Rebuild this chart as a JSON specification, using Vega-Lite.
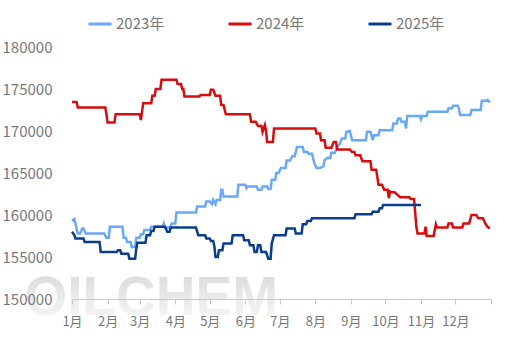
{
 "$schema": "https://vega.github.io/schema/vega-lite/v6.json",
 "width": 419,
 "height": 252,
 "autosize": {"type": "none"},
 "padding": {"left": 72, "top": 47, "right": 23, "bottom": 43},
 "config": {"view": {"stroke": null}, "font": "Noto Sans CJK SC"},
 "datasets": {
  "wm": [{"t": "OILCHEM"}],
  "series": [
   {"s":"2023年","d":"2023/01/01","v":159300},{"s":"2023年","d":"2023/01/03","v":159500},{"s":"2023年","d":"2023/01/04","v":159000},{"s":"2023年","d":"2023/01/06","v":157800},{"s":"2023年","d":"2023/01/08","v":157800},{"s":"2023年","d":"2023/01/10","v":158400},{"s":"2023年","d":"2023/01/11","v":158400},{"s":"2023年","d":"2023/01/13","v":157800},{"s":"2023年","d":"2023/01/29","v":157800},{"s":"2023年","d":"2023/01/31","v":157300},{"s":"2023年","d":"2023/02/02","v":157300},{"s":"2023年","d":"2023/02/03","v":158600},{"s":"2023年","d":"2023/02/14","v":158600},{"s":"2023年","d":"2023/02/15","v":157300},{"s":"2023年","d":"2023/02/17","v":157300},{"s":"2023年","d":"2023/02/18","v":156800},{"s":"2023年","d":"2023/02/21","v":156800},{"s":"2023年","d":"2023/02/22","v":156200},{"s":"2023年","d":"2023/02/25","v":156200},{"s":"2023年","d":"2023/02/26","v":157300},{"s":"2023年","d":"2023/03/01","v":157300},{"s":"2023年","d":"2023/03/02","v":157700},{"s":"2023年","d":"2023/03/04","v":157700},{"s":"2023年","d":"2023/03/05","v":158200},{"s":"2023年","d":"2023/03/10","v":158200},{"s":"2023年","d":"2023/03/11","v":158600},{"s":"2023年","d":"2023/03/21","v":158600},{"s":"2023年","d":"2023/03/22","v":159000},{"s":"2023年","d":"2023/03/23","v":158500},{"s":"2023年","d":"2023/03/27","v":158500},{"s":"2023年","d":"2023/03/29","v":159000},{"s":"2023年","d":"2023/04/01","v":159000},{"s":"2023年","d":"2023/04/02","v":160300},{"s":"2023年","d":"2023/04/19","v":160300},{"s":"2023年","d":"2023/04/20","v":161000},{"s":"2023年","d":"2023/04/27","v":161000},{"s":"2023年","d":"2023/04/28","v":161600},{"s":"2023年","d":"2023/05/01","v":161600},{"s":"2023年","d":"2023/05/03","v":161300},{"s":"2023年","d":"2023/05/04","v":161800},{"s":"2023年","d":"2023/05/06","v":161300},{"s":"2023年","d":"2023/05/07","v":161800},{"s":"2023年","d":"2023/05/10","v":161800},{"s":"2023年","d":"2023/05/11","v":163000},{"s":"2023年","d":"2023/05/12","v":163000},{"s":"2023年","d":"2023/05/13","v":162200},{"s":"2023年","d":"2023/05/25","v":162200},{"s":"2023年","d":"2023/05/26","v":163600},{"s":"2023年","d":"2023/06/01","v":163600},{"s":"2023年","d":"2023/06/02","v":163200},{"s":"2023年","d":"2023/06/03","v":163400},{"s":"2023年","d":"2023/06/11","v":163400},{"s":"2023年","d":"2023/06/12","v":163000},{"s":"2023年","d":"2023/06/15","v":163000},{"s":"2023年","d":"2023/06/16","v":163400},{"s":"2023年","d":"2023/06/20","v":163400},{"s":"2023年","d":"2023/06/21","v":163100},{"s":"2023年","d":"2023/06/23","v":163100},{"s":"2023年","d":"2023/06/24","v":164200},{"s":"2023年","d":"2023/06/27","v":164200},{"s":"2023年","d":"2023/06/28","v":165000},{"s":"2023年","d":"2023/06/30","v":165000},{"s":"2023年","d":"2023/07/02","v":165600},{"s":"2023年","d":"2023/07/06","v":165600},{"s":"2023年","d":"2023/07/07","v":166500},{"s":"2023年","d":"2023/07/10","v":166500},{"s":"2023年","d":"2023/07/12","v":167000},{"s":"2023年","d":"2023/07/14","v":167000},{"s":"2023年","d":"2023/07/16","v":168100},{"s":"2023年","d":"2023/07/21","v":168100},{"s":"2023年","d":"2023/07/22","v":167500},{"s":"2023年","d":"2023/07/25","v":167500},{"s":"2023年","d":"2023/07/26","v":167300},{"s":"2023年","d":"2023/07/29","v":167300},{"s":"2023年","d":"2023/07/31","v":166200},{"s":"2023年","d":"2023/08/02","v":165600},{"s":"2023年","d":"2023/08/05","v":165600},{"s":"2023年","d":"2023/08/08","v":165800},{"s":"2023年","d":"2023/08/09","v":166500},{"s":"2023年","d":"2023/08/11","v":166800},{"s":"2023年","d":"2023/08/14","v":166800},{"s":"2023年","d":"2023/08/15","v":167400},{"s":"2023年","d":"2023/08/18","v":167400},{"s":"2023年","d":"2023/08/20","v":168100},{"s":"2023年","d":"2023/08/22","v":168400},{"s":"2023年","d":"2023/08/24","v":169100},{"s":"2023年","d":"2023/08/27","v":169100},{"s":"2023年","d":"2023/08/28","v":169900},{"s":"2023年","d":"2023/08/31","v":170000},{"s":"2023年","d":"2023/09/02","v":168900},{"s":"2023年","d":"2023/09/14","v":168900},{"s":"2023年","d":"2023/09/15","v":169900},{"s":"2023年","d":"2023/09/18","v":169900},{"s":"2023年","d":"2023/09/20","v":168900},{"s":"2023年","d":"2023/09/21","v":169500},{"s":"2023年","d":"2023/09/25","v":169500},{"s":"2023年","d":"2023/09/26","v":170100},{"s":"2023年","d":"2023/10/07","v":170100},{"s":"2023年","d":"2023/10/08","v":170900},{"s":"2023年","d":"2023/10/11","v":170900},{"s":"2023年","d":"2023/10/12","v":171500},{"s":"2023年","d":"2023/10/14","v":171500},{"s":"2023年","d":"2023/10/15","v":171100},{"s":"2023年","d":"2023/10/18","v":171100},{"s":"2023年","d":"2023/10/19","v":170300},{"s":"2023年","d":"2023/10/20","v":171800},{"s":"2023年","d":"2023/10/31","v":171800},{"s":"2023年","d":"2023/11/01","v":171400},{"s":"2023年","d":"2023/11/02","v":171800},{"s":"2023年","d":"2023/11/06","v":171800},{"s":"2023年","d":"2023/11/07","v":172300},{"s":"2023年","d":"2023/11/24","v":172300},{"s":"2023年","d":"2023/11/25","v":172700},{"s":"2023年","d":"2023/11/28","v":172700},{"s":"2023年","d":"2023/11/29","v":173000},{"s":"2023年","d":"2023/12/03","v":173000},{"s":"2023年","d":"2023/12/04","v":172700},{"s":"2023年","d":"2023/12/05","v":171900},{"s":"2023年","d":"2023/12/14","v":171900},{"s":"2023年","d":"2023/12/15","v":172500},{"s":"2023年","d":"2023/12/23","v":172500},{"s":"2023年","d":"2023/12/24","v":173600},{"s":"2023年","d":"2023/12/28","v":173600},{"s":"2023年","d":"2023/12/29","v":173700},{"s":"2023年","d":"2023/12/31","v":173400},
   {"s":"2024年","d":"2023/01/01","v":173450},{"s":"2024年","d":"2023/01/05","v":173450},{"s":"2024年","d":"2023/01/06","v":172800},{"s":"2024年","d":"2023/01/30","v":172800},{"s":"2024年","d":"2023/01/31","v":172000},{"s":"2024年","d":"2023/02/01","v":171000},{"s":"2024年","d":"2023/02/07","v":171000},{"s":"2024年","d":"2023/02/08","v":172000},{"s":"2024年","d":"2023/03/01","v":172000},{"s":"2024年","d":"2023/03/02","v":171300},{"s":"2024年","d":"2023/03/04","v":173300},{"s":"2024年","d":"2023/03/11","v":173300},{"s":"2024年","d":"2023/03/12","v":174200},{"s":"2024年","d":"2023/03/14","v":174200},{"s":"2024年","d":"2023/03/15","v":175000},{"s":"2024年","d":"2023/03/19","v":175000},{"s":"2024年","d":"2023/03/20","v":176100},{"s":"2024年","d":"2023/04/02","v":176100},{"s":"2024年","d":"2023/04/03","v":175600},{"s":"2024年","d":"2023/04/06","v":175600},{"s":"2024年","d":"2023/04/07","v":175000},{"s":"2024年","d":"2023/04/08","v":175000},{"s":"2024年","d":"2023/04/09","v":174100},{"s":"2024年","d":"2023/04/22","v":174100},{"s":"2024年","d":"2023/04/23","v":174300},{"s":"2024年","d":"2023/05/01","v":174300},{"s":"2024年","d":"2023/05/02","v":174900},{"s":"2024年","d":"2023/05/04","v":174900},{"s":"2024年","d":"2023/05/06","v":174200},{"s":"2024年","d":"2023/05/10","v":174200},{"s":"2024年","d":"2023/05/11","v":173100},{"s":"2024年","d":"2023/05/13","v":173100},{"s":"2024年","d":"2023/05/15","v":172000},{"s":"2024年","d":"2023/06/05","v":172000},{"s":"2024年","d":"2023/06/06","v":171100},{"s":"2024年","d":"2023/06/10","v":171100},{"s":"2024年","d":"2023/06/12","v":170600},{"s":"2024年","d":"2023/06/15","v":170600},{"s":"2024年","d":"2023/06/16","v":169900},{"s":"2024年","d":"2023/06/18","v":170700},{"s":"2024年","d":"2023/06/19","v":170000},{"s":"2024年","d":"2023/06/20","v":168700},{"s":"2024年","d":"2023/06/25","v":168700},{"s":"2024年","d":"2023/06/26","v":170300},{"s":"2024年","d":"2023/08/01","v":170300},{"s":"2024年","d":"2023/08/02","v":169700},{"s":"2024年","d":"2023/08/05","v":169700},{"s":"2024年","d":"2023/08/06","v":168900},{"s":"2024年","d":"2023/08/09","v":168900},{"s":"2024年","d":"2023/08/10","v":168000},{"s":"2024年","d":"2023/08/15","v":168000},{"s":"2024年","d":"2023/08/17","v":168700},{"s":"2024年","d":"2023/08/19","v":168700},{"s":"2024年","d":"2023/08/20","v":167800},{"s":"2024年","d":"2023/08/31","v":167800},{"s":"2024年","d":"2023/09/02","v":167500},{"s":"2024年","d":"2023/09/04","v":167500},{"s":"2024年","d":"2023/09/05","v":167100},{"s":"2024年","d":"2023/09/09","v":167100},{"s":"2024年","d":"2023/09/11","v":166400},{"s":"2024年","d":"2023/09/18","v":166400},{"s":"2024年","d":"2023/09/19","v":165400},{"s":"2024年","d":"2023/09/23","v":165400},{"s":"2024年","d":"2023/09/25","v":163600},{"s":"2024年","d":"2023/09/28","v":163600},{"s":"2024年","d":"2023/09/30","v":163000},{"s":"2024年","d":"2023/10/03","v":163000},{"s":"2024年","d":"2023/10/04","v":162000},{"s":"2024年","d":"2023/10/05","v":162800},{"s":"2024年","d":"2023/10/07","v":162700},{"s":"2024年","d":"2023/10/09","v":162700},{"s":"2024年","d":"2023/10/14","v":162100},{"s":"2024年","d":"2023/10/22","v":162100},{"s":"2024年","d":"2023/10/23","v":161900},{"s":"2024年","d":"2023/10/26","v":161900},{"s":"2024年","d":"2023/10/27","v":160200},{"s":"2024年","d":"2023/10/28","v":158600},{"s":"2024年","d":"2023/10/29","v":157800},{"s":"2024年","d":"2023/11/04","v":157800},{"s":"2024年","d":"2023/11/05","v":158600},{"s":"2024年","d":"2023/11/06","v":157500},{"s":"2024年","d":"2023/11/12","v":157500},{"s":"2024年","d":"2023/11/14","v":158900},{"s":"2024年","d":"2023/11/15","v":158500},{"s":"2024年","d":"2023/11/24","v":158500},{"s":"2024年","d":"2023/11/25","v":159000},{"s":"2024年","d":"2023/11/28","v":159000},{"s":"2024年","d":"2023/11/29","v":158500},{"s":"2024年","d":"2023/12/07","v":158500},{"s":"2024年","d":"2023/12/08","v":159000},{"s":"2024年","d":"2023/12/13","v":159000},{"s":"2024年","d":"2023/12/15","v":160000},{"s":"2024年","d":"2023/12/19","v":160000},{"s":"2024年","d":"2023/12/21","v":159600},{"s":"2024年","d":"2023/12/25","v":159600},{"s":"2024年","d":"2023/12/27","v":159000},{"s":"2024年","d":"2023/12/29","v":158600},{"s":"2024年","d":"2023/12/31","v":158400},
   {"s":"2025年","d":"2023/01/01","v":158000},{"s":"2025年","d":"2023/01/03","v":157600},{"s":"2025年","d":"2023/01/04","v":157200},{"s":"2025年","d":"2023/01/11","v":157200},{"s":"2025年","d":"2023/01/12","v":156800},{"s":"2025年","d":"2023/01/25","v":156800},{"s":"2025年","d":"2023/01/26","v":155600},{"s":"2025年","d":"2023/02/09","v":155600},{"s":"2025年","d":"2023/02/10","v":155800},{"s":"2025年","d":"2023/02/12","v":155800},{"s":"2025年","d":"2023/02/13","v":155400},{"s":"2025年","d":"2023/02/19","v":155400},{"s":"2025年","d":"2023/02/20","v":154800},{"s":"2025年","d":"2023/02/25","v":154800},{"s":"2025年","d":"2023/02/26","v":156000},{"s":"2025年","d":"2023/02/27","v":156700},{"s":"2025年","d":"2023/03/06","v":156700},{"s":"2025年","d":"2023/03/07","v":157600},{"s":"2025年","d":"2023/03/10","v":157600},{"s":"2025年","d":"2023/03/11","v":158100},{"s":"2025年","d":"2023/03/13","v":158100},{"s":"2025年","d":"2023/03/14","v":158600},{"s":"2025年","d":"2023/03/23","v":158600},{"s":"2025年","d":"2023/03/25","v":158000},{"s":"2025年","d":"2023/03/27","v":158000},{"s":"2025年","d":"2023/03/28","v":158500},{"s":"2025年","d":"2023/04/19","v":158500},{"s":"2025年","d":"2023/04/21","v":157600},{"s":"2025年","d":"2023/04/27","v":157600},{"s":"2025年","d":"2023/04/28","v":157200},{"s":"2025年","d":"2023/05/01","v":157200},{"s":"2025年","d":"2023/05/02","v":156900},{"s":"2025年","d":"2023/05/04","v":156900},{"s":"2025年","d":"2023/05/05","v":156300},{"s":"2025年","d":"2023/05/06","v":155000},{"s":"2025年","d":"2023/05/08","v":155000},{"s":"2025年","d":"2023/05/09","v":155800},{"s":"2025年","d":"2023/05/12","v":155800},{"s":"2025年","d":"2023/05/13","v":156600},{"s":"2025年","d":"2023/05/20","v":156600},{"s":"2025年","d":"2023/05/21","v":157600},{"s":"2025年","d":"2023/05/30","v":157600},{"s":"2025年","d":"2023/05/31","v":157000},{"s":"2025年","d":"2023/06/04","v":157000},{"s":"2025年","d":"2023/06/05","v":156400},{"s":"2025年","d":"2023/06/08","v":156400},{"s":"2025年","d":"2023/06/09","v":155600},{"s":"2025年","d":"2023/06/11","v":155600},{"s":"2025年","d":"2023/06/12","v":156400},{"s":"2025年","d":"2023/06/14","v":156400},{"s":"2025年","d":"2023/06/15","v":155600},{"s":"2025年","d":"2023/06/19","v":155600},{"s":"2025年","d":"2023/06/21","v":154800},{"s":"2025年","d":"2023/06/23","v":154800},{"s":"2025年","d":"2023/06/24","v":156600},{"s":"2025年","d":"2023/06/26","v":157600},{"s":"2025年","d":"2023/07/06","v":157600},{"s":"2025年","d":"2023/07/07","v":158400},{"s":"2025年","d":"2023/07/14","v":158400},{"s":"2025年","d":"2023/07/15","v":157800},{"s":"2025年","d":"2023/07/20","v":157800},{"s":"2025年","d":"2023/07/21","v":158900},{"s":"2025年","d":"2023/07/24","v":158900},{"s":"2025年","d":"2023/07/25","v":159300},{"s":"2025年","d":"2023/07/28","v":159300},{"s":"2025年","d":"2023/07/29","v":159600},{"s":"2025年","d":"2023/09/04","v":159600},{"s":"2025年","d":"2023/09/05","v":160100},{"s":"2025年","d":"2023/09/19","v":160100},{"s":"2025年","d":"2023/09/20","v":160400},{"s":"2025年","d":"2023/09/25","v":160400},{"s":"2025年","d":"2023/09/26","v":160800},{"s":"2025年","d":"2023/09/28","v":160800},{"s":"2025年","d":"2023/09/29","v":161200},{"s":"2025年","d":"2023/11/01","v":161200}
  ]
 },
 "layer": [
  {
   "data": {"name": "wm"},
   "mark": {"type": "text", "font": "Liberation Sans", "fontWeight": "bold", "fontSize": 55, "align": "center", "baseline": "alphabetic",
    "color": {"gradient": "linear", "x1": 0, "y1": 0, "x2": 0, "y2": 1, "stops": [{"offset": 0, "color": "#d6d6d6"}, {"offset": 1, "color": "#fbfbfb"}]}},
   "encoding": {
    "x": {"datum": {"year": 2023, "month": 3, "date": 11}, "type": "temporal", "scale": {"domain": [{"year": 2023, "month": 1, "date": 1}, {"year": 2024, "month": 1, "date": 1}]}},
    "y": {"datum": 148100, "type": "quantitative", "scale": {"domain": [150000, 180000]}},
    "text": {"field": "t"}
   }
  },
  {
   "data": {"name": "series"},
   "mark": {"type": "line", "strokeWidth": 2.5},
   "encoding": {
    "x": {
     "field": "d", "type": "temporal",
     "scale": {"domain": [{"year": 2023, "month": 1, "date": 1}, {"year": 2024, "month": 1, "date": 1}]},
     "axis": {
      "title": null, "grid": false, "zindex": 1,
      "tickCount": {"interval": "month", "step": 1},
      "labelExpr": "year(datum.value) == 2024 ? '' : (month(datum.value) + 1) + '月'",
      "labelFlush": false, "labelOverlap": false,
      "domainColor": "#c8c8c8", "tickColor": "#c8c8c8", "tickSize": 5,
      "labelPadding": 11, "labelFontSize": 13, "labelColor": "#777777", "labelFont": "Noto Sans CJK SC"
     }
    },
    "y": {
     "field": "v", "type": "quantitative",
     "scale": {"domain": [150000, 180000]},
     "axis": {
      "title": null, "values": [150000, 155000, 160000, 165000, 170000, 175000, 180000],
      "format": "d", "domain": false, "ticks": false, "tickSize": 0, "labelPadding": 20, "zindex": 1,
      "gridDash": [4, 4], "gridColor": "#d9d9d9",
      "labelFontSize": 15, "labelColor": "#777777", "labelFont": "Noto Sans CJK SC"
     }
    },
    "color": {
     "field": "s", "type": "nominal",
     "scale": {"domain": ["2023年", "2024年", "2025年"], "range": ["#6aa8f8", "#d70c0c", "#0b3d8e"]},
     "legend": {
      "title": null, "orient": "none", "direction": "horizontal", "legendX": 15, "legendY": -36, "padding": 0,
      "symbolType": "stroke", "symbolSize": 529, "symbolStrokeWidth": 3,
      "labelOffset": 3, "labelFontSize": 15, "labelColor": "#777777", "labelFont": "Noto Sans CJK SC",
      "columnPadding": 57
     }
    }
   }
  }
 ]
}
